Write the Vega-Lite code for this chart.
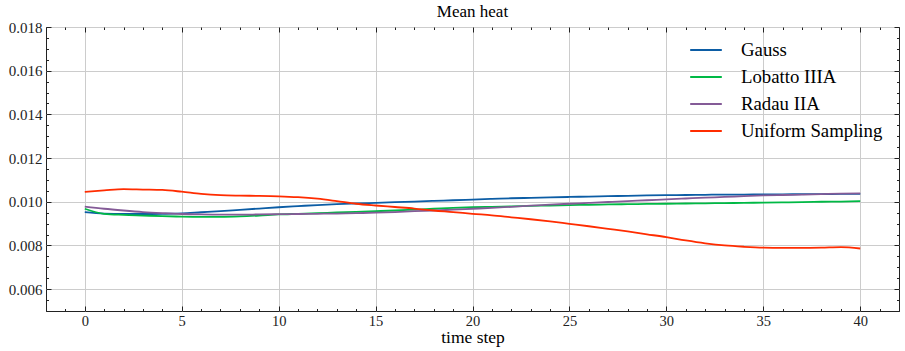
{
  "$schema": "https://vega.github.io/schema/vega-lite/v6.json",
  "width": 853,
  "height": 284,
  "autosize": {"type": "none"},
  "padding": {"left": 46, "top": 27, "right": 6, "bottom": 40},
  "title": {"text": "Mean heat", "font": "Liberation Serif", "fontSize": 17, "fontWeight": "normal", "color": "#000", "offset": -1},
  "config": {
    "view": {"stroke": "#222", "strokeWidth": 1},
    "axis": {"domain": false, "labelFont": "Liberation Serif", "titleFont": "Liberation Serif", "labelColor": "#222", "titleColor": "#000", "titleFontWeight": "normal", "tickColor": "#222", "gridColor": "#cccccc", "gridWidth": 1}
  },
  "datasets": {
    "heat": [
      {"step": 0, "method": "Gauss", "value": 0.00953}, {"step": 1, "method": "Gauss", "value": 0.00946}, {"step": 2, "method": "Gauss", "value": 0.00944}, {"step": 3, "method": "Gauss", "value": 0.00944}, {"step": 4, "method": "Gauss", "value": 0.00945}, {"step": 5, "method": "Gauss", "value": 0.00947}, {"step": 6, "method": "Gauss", "value": 0.00952}, {"step": 7, "method": "Gauss", "value": 0.00957}, {"step": 8, "method": "Gauss", "value": 0.00963}, {"step": 9, "method": "Gauss", "value": 0.00969}, {"step": 10, "method": "Gauss", "value": 0.00975}, {"step": 11, "method": "Gauss", "value": 0.0098}, {"step": 12, "method": "Gauss", "value": 0.00985}, {"step": 13, "method": "Gauss", "value": 0.00989}, {"step": 14, "method": "Gauss", "value": 0.00992}, {"step": 15, "method": "Gauss", "value": 0.00995}, {"step": 16, "method": "Gauss", "value": 0.00998}, {"step": 17, "method": "Gauss", "value": 0.01001}, {"step": 18, "method": "Gauss", "value": 0.01004}, {"step": 19, "method": "Gauss", "value": 0.01007}, {"step": 20, "method": "Gauss", "value": 0.0101}, {"step": 21, "method": "Gauss", "value": 0.01013}, {"step": 22, "method": "Gauss", "value": 0.01016}, {"step": 23, "method": "Gauss", "value": 0.01018}, {"step": 24, "method": "Gauss", "value": 0.0102}, {"step": 25, "method": "Gauss", "value": 0.01022}, {"step": 26, "method": "Gauss", "value": 0.01024}, {"step": 27, "method": "Gauss", "value": 0.01026}, {"step": 28, "method": "Gauss", "value": 0.01027}, {"step": 29, "method": "Gauss", "value": 0.01029}, {"step": 30, "method": "Gauss", "value": 0.0103}, {"step": 31, "method": "Gauss", "value": 0.01031}, {"step": 32, "method": "Gauss", "value": 0.01032}, {"step": 33, "method": "Gauss", "value": 0.01033}, {"step": 34, "method": "Gauss", "value": 0.01033}, {"step": 35, "method": "Gauss", "value": 0.01034}, {"step": 36, "method": "Gauss", "value": 0.01034}, {"step": 37, "method": "Gauss", "value": 0.01035}, {"step": 38, "method": "Gauss", "value": 0.01035}, {"step": 39, "method": "Gauss", "value": 0.01036}, {"step": 40, "method": "Gauss", "value": 0.01036},
      {"step": 0, "method": "Lobatto IIIA", "value": 0.00968}, {"step": 1, "method": "Lobatto IIIA", "value": 0.00945}, {"step": 2, "method": "Lobatto IIIA", "value": 0.0094}, {"step": 3, "method": "Lobatto IIIA", "value": 0.00937}, {"step": 4, "method": "Lobatto IIIA", "value": 0.00934}, {"step": 5, "method": "Lobatto IIIA", "value": 0.00932}, {"step": 6, "method": "Lobatto IIIA", "value": 0.00931}, {"step": 7, "method": "Lobatto IIIA", "value": 0.00931}, {"step": 8, "method": "Lobatto IIIA", "value": 0.00933}, {"step": 9, "method": "Lobatto IIIA", "value": 0.00937}, {"step": 10, "method": "Lobatto IIIA", "value": 0.00942}, {"step": 11, "method": "Lobatto IIIA", "value": 0.00945}, {"step": 12, "method": "Lobatto IIIA", "value": 0.00948}, {"step": 13, "method": "Lobatto IIIA", "value": 0.00951}, {"step": 14, "method": "Lobatto IIIA", "value": 0.00954}, {"step": 15, "method": "Lobatto IIIA", "value": 0.00957}, {"step": 16, "method": "Lobatto IIIA", "value": 0.0096}, {"step": 17, "method": "Lobatto IIIA", "value": 0.00964}, {"step": 18, "method": "Lobatto IIIA", "value": 0.00968}, {"step": 19, "method": "Lobatto IIIA", "value": 0.00972}, {"step": 20, "method": "Lobatto IIIA", "value": 0.00975}, {"step": 21, "method": "Lobatto IIIA", "value": 0.00977}, {"step": 22, "method": "Lobatto IIIA", "value": 0.00979}, {"step": 23, "method": "Lobatto IIIA", "value": 0.00981}, {"step": 24, "method": "Lobatto IIIA", "value": 0.00983}, {"step": 25, "method": "Lobatto IIIA", "value": 0.00985}, {"step": 26, "method": "Lobatto IIIA", "value": 0.00986}, {"step": 27, "method": "Lobatto IIIA", "value": 0.00988}, {"step": 28, "method": "Lobatto IIIA", "value": 0.00989}, {"step": 29, "method": "Lobatto IIIA", "value": 0.0099}, {"step": 30, "method": "Lobatto IIIA", "value": 0.00991}, {"step": 31, "method": "Lobatto IIIA", "value": 0.00992}, {"step": 32, "method": "Lobatto IIIA", "value": 0.00993}, {"step": 33, "method": "Lobatto IIIA", "value": 0.00994}, {"step": 34, "method": "Lobatto IIIA", "value": 0.00995}, {"step": 35, "method": "Lobatto IIIA", "value": 0.00996}, {"step": 36, "method": "Lobatto IIIA", "value": 0.00997}, {"step": 37, "method": "Lobatto IIIA", "value": 0.00998}, {"step": 38, "method": "Lobatto IIIA", "value": 0.01}, {"step": 39, "method": "Lobatto IIIA", "value": 0.01001}, {"step": 40, "method": "Lobatto IIIA", "value": 0.01003},
      {"step": 0, "method": "Radau IIA", "value": 0.00978}, {"step": 1, "method": "Radau IIA", "value": 0.00968}, {"step": 2, "method": "Radau IIA", "value": 0.0096}, {"step": 3, "method": "Radau IIA", "value": 0.00953}, {"step": 4, "method": "Radau IIA", "value": 0.00948}, {"step": 5, "method": "Radau IIA", "value": 0.00944}, {"step": 6, "method": "Radau IIA", "value": 0.00942}, {"step": 7, "method": "Radau IIA", "value": 0.00941}, {"step": 8, "method": "Radau IIA", "value": 0.00941}, {"step": 9, "method": "Radau IIA", "value": 0.00942}, {"step": 10, "method": "Radau IIA", "value": 0.00943}, {"step": 11, "method": "Radau IIA", "value": 0.00944}, {"step": 12, "method": "Radau IIA", "value": 0.00945}, {"step": 13, "method": "Radau IIA", "value": 0.00946}, {"step": 14, "method": "Radau IIA", "value": 0.00948}, {"step": 15, "method": "Radau IIA", "value": 0.0095}, {"step": 16, "method": "Radau IIA", "value": 0.00953}, {"step": 17, "method": "Radau IIA", "value": 0.00957}, {"step": 18, "method": "Radau IIA", "value": 0.0096}, {"step": 19, "method": "Radau IIA", "value": 0.00964}, {"step": 20, "method": "Radau IIA", "value": 0.00968}, {"step": 21, "method": "Radau IIA", "value": 0.00972}, {"step": 22, "method": "Radau IIA", "value": 0.00977}, {"step": 23, "method": "Radau IIA", "value": 0.00982}, {"step": 24, "method": "Radau IIA", "value": 0.00987}, {"step": 25, "method": "Radau IIA", "value": 0.00991}, {"step": 26, "method": "Radau IIA", "value": 0.00995}, {"step": 27, "method": "Radau IIA", "value": 0.00999}, {"step": 28, "method": "Radau IIA", "value": 0.01003}, {"step": 29, "method": "Radau IIA", "value": 0.01007}, {"step": 30, "method": "Radau IIA", "value": 0.01011}, {"step": 31, "method": "Radau IIA", "value": 0.01015}, {"step": 32, "method": "Radau IIA", "value": 0.01019}, {"step": 33, "method": "Radau IIA", "value": 0.01022}, {"step": 34, "method": "Radau IIA", "value": 0.01026}, {"step": 35, "method": "Radau IIA", "value": 0.01029}, {"step": 36, "method": "Radau IIA", "value": 0.01031}, {"step": 37, "method": "Radau IIA", "value": 0.01033}, {"step": 38, "method": "Radau IIA", "value": 0.01035}, {"step": 39, "method": "Radau IIA", "value": 0.01037}, {"step": 40, "method": "Radau IIA", "value": 0.01038},
      {"step": 0, "method": "Uniform Sampling", "value": 0.01045}, {"step": 1, "method": "Uniform Sampling", "value": 0.01052}, {"step": 2, "method": "Uniform Sampling", "value": 0.01058}, {"step": 3, "method": "Uniform Sampling", "value": 0.01056}, {"step": 4, "method": "Uniform Sampling", "value": 0.01054}, {"step": 5, "method": "Uniform Sampling", "value": 0.01046}, {"step": 6, "method": "Uniform Sampling", "value": 0.01036}, {"step": 7, "method": "Uniform Sampling", "value": 0.0103}, {"step": 8, "method": "Uniform Sampling", "value": 0.01028}, {"step": 9, "method": "Uniform Sampling", "value": 0.01027}, {"step": 10, "method": "Uniform Sampling", "value": 0.01025}, {"step": 11, "method": "Uniform Sampling", "value": 0.01021}, {"step": 12, "method": "Uniform Sampling", "value": 0.01014}, {"step": 13, "method": "Uniform Sampling", "value": 0.01003}, {"step": 14, "method": "Uniform Sampling", "value": 0.00991}, {"step": 15, "method": "Uniform Sampling", "value": 0.00983}, {"step": 16, "method": "Uniform Sampling", "value": 0.00976}, {"step": 17, "method": "Uniform Sampling", "value": 0.00969}, {"step": 18, "method": "Uniform Sampling", "value": 0.0096}, {"step": 19, "method": "Uniform Sampling", "value": 0.00953}, {"step": 20, "method": "Uniform Sampling", "value": 0.00945}, {"step": 21, "method": "Uniform Sampling", "value": 0.00938}, {"step": 22, "method": "Uniform Sampling", "value": 0.00929}, {"step": 23, "method": "Uniform Sampling", "value": 0.0092}, {"step": 24, "method": "Uniform Sampling", "value": 0.0091}, {"step": 25, "method": "Uniform Sampling", "value": 0.00899}, {"step": 26, "method": "Uniform Sampling", "value": 0.00888}, {"step": 27, "method": "Uniform Sampling", "value": 0.00876}, {"step": 28, "method": "Uniform Sampling", "value": 0.00864}, {"step": 29, "method": "Uniform Sampling", "value": 0.00851}, {"step": 30, "method": "Uniform Sampling", "value": 0.00838}, {"step": 31, "method": "Uniform Sampling", "value": 0.00823}, {"step": 32, "method": "Uniform Sampling", "value": 0.0081}, {"step": 33, "method": "Uniform Sampling", "value": 0.008}, {"step": 34, "method": "Uniform Sampling", "value": 0.00794}, {"step": 35, "method": "Uniform Sampling", "value": 0.0079}, {"step": 36, "method": "Uniform Sampling", "value": 0.00789}, {"step": 37, "method": "Uniform Sampling", "value": 0.00789}, {"step": 38, "method": "Uniform Sampling", "value": 0.0079}, {"step": 39, "method": "Uniform Sampling", "value": 0.00792}, {"step": 40, "method": "Uniform Sampling", "value": 0.00786}
    ]
  },
  "data": {"name": "heat"},
  "resolve": {"axis": {"x": "independent", "y": "independent"}},
  "layer": [
    {
      "mark": {"type": "line", "interpolate": "monotone", "strokeWidth": 1.8},
      "encoding": {
        "x": {
          "field": "step", "type": "quantitative",
          "scale": {"domain": [-2, 42], "nice": false, "zero": false},
          "axis": {
            "orient": "bottom", "title": "time step", "titleFontSize": 17.5, "titlePadding": 1,
            "values": [-2, -1, 0, 1, 2, 3, 4, 5, 6, 7, 8, 9, 10, 11, 12, 13, 14, 15, 16, 17, 18, 19, 20, 21, 22, 23, 24, 25, 26, 27, 28, 29, 30, 31, 32, 33, 34, 35, 36, 37, 38, 39, 40, 41, 42],
            "labelExpr": "datum.value % 5 === 0 ? datum.label : ''",
            "labelFontSize": 14.5, "labelPadding": 8, "labelFlush": false,
            "tickSize": {"condition": {"test": "datum.value % 5 === 0", "value": -5}, "value": -2.5},
            "gridOpacity": {"condition": {"test": "datum.value % 5 === 0", "value": 1}, "value": 0}
          }
        },
        "y": {
          "field": "value", "type": "quantitative",
          "scale": {"domain": [0.005, 0.018], "nice": false, "zero": false},
          "axis": {
            "orient": "left", "title": null,
            "values": [0.005, 0.0055, 0.006, 0.0065, 0.007, 0.0075, 0.008, 0.0085, 0.009, 0.0095, 0.01, 0.0105, 0.011, 0.0115, 0.012, 0.0125, 0.013, 0.0135, 0.014, 0.0145, 0.015, 0.0155, 0.016, 0.0165, 0.017, 0.0175, 0.018],
            "labelExpr": "round(datum.value * 10000) % 20 === 0 ? format(datum.value, '.3f') : ''",
            "labelFontSize": 15, "labelPadding": 9, "labelFlush": false,
            "tickSize": {"condition": {"test": "round(datum.value * 10000) % 20 === 0", "value": -5}, "value": -2.5},
            "gridOpacity": {"condition": {"test": "round(datum.value * 10000) % 20 === 0", "value": 1}, "value": 0}
          }
        },
        "color": {
          "field": "method", "type": "nominal",
          "scale": {"domain": ["Gauss", "Lobatto IIIA", "Radau IIA", "Uniform Sampling"], "range": ["#0C5DA5", "#00B945", "#845B97", "#FF2C00"]},
          "legend": {
            "title": null, "orient": "none", "legendX": 643, "legendY": 6, "padding": 0,
            "symbolType": "stroke", "symbolSize": 1000, "symbolStrokeWidth": 2,
            "labelFont": "Liberation Serif", "labelFontSize": 18.8, "labelColor": "#000", "labelOffset": 18, "rowPadding": 0
          }
        }
      }
    },
    {
      "mark": {"type": "line", "strokeOpacity": 0},
      "encoding": {
        "x": {
          "field": "step", "type": "quantitative",
          "axis": {
            "orient": "top", "title": null, "labels": false, "grid": false,
            "values": [-2, -1, 0, 1, 2, 3, 4, 5, 6, 7, 8, 9, 10, 11, 12, 13, 14, 15, 16, 17, 18, 19, 20, 21, 22, 23, 24, 25, 26, 27, 28, 29, 30, 31, 32, 33, 34, 35, 36, 37, 38, 39, 40, 41, 42],
            "tickSize": {"condition": {"test": "datum.value % 5 === 0", "value": -5}, "value": -2.5}
          }
        },
        "y": {
          "field": "value", "type": "quantitative",
          "axis": {
            "orient": "right", "title": null, "labels": false, "grid": false,
            "values": [0.005, 0.0055, 0.006, 0.0065, 0.007, 0.0075, 0.008, 0.0085, 0.009, 0.0095, 0.01, 0.0105, 0.011, 0.0115, 0.012, 0.0125, 0.013, 0.0135, 0.014, 0.0145, 0.015, 0.0155, 0.016, 0.0165, 0.017, 0.0175, 0.018],
            "tickSize": {"condition": {"test": "round(datum.value * 10000) % 20 === 0", "value": -5}, "value": -2.5}
          }
        }
      }
    }
  ]
}
